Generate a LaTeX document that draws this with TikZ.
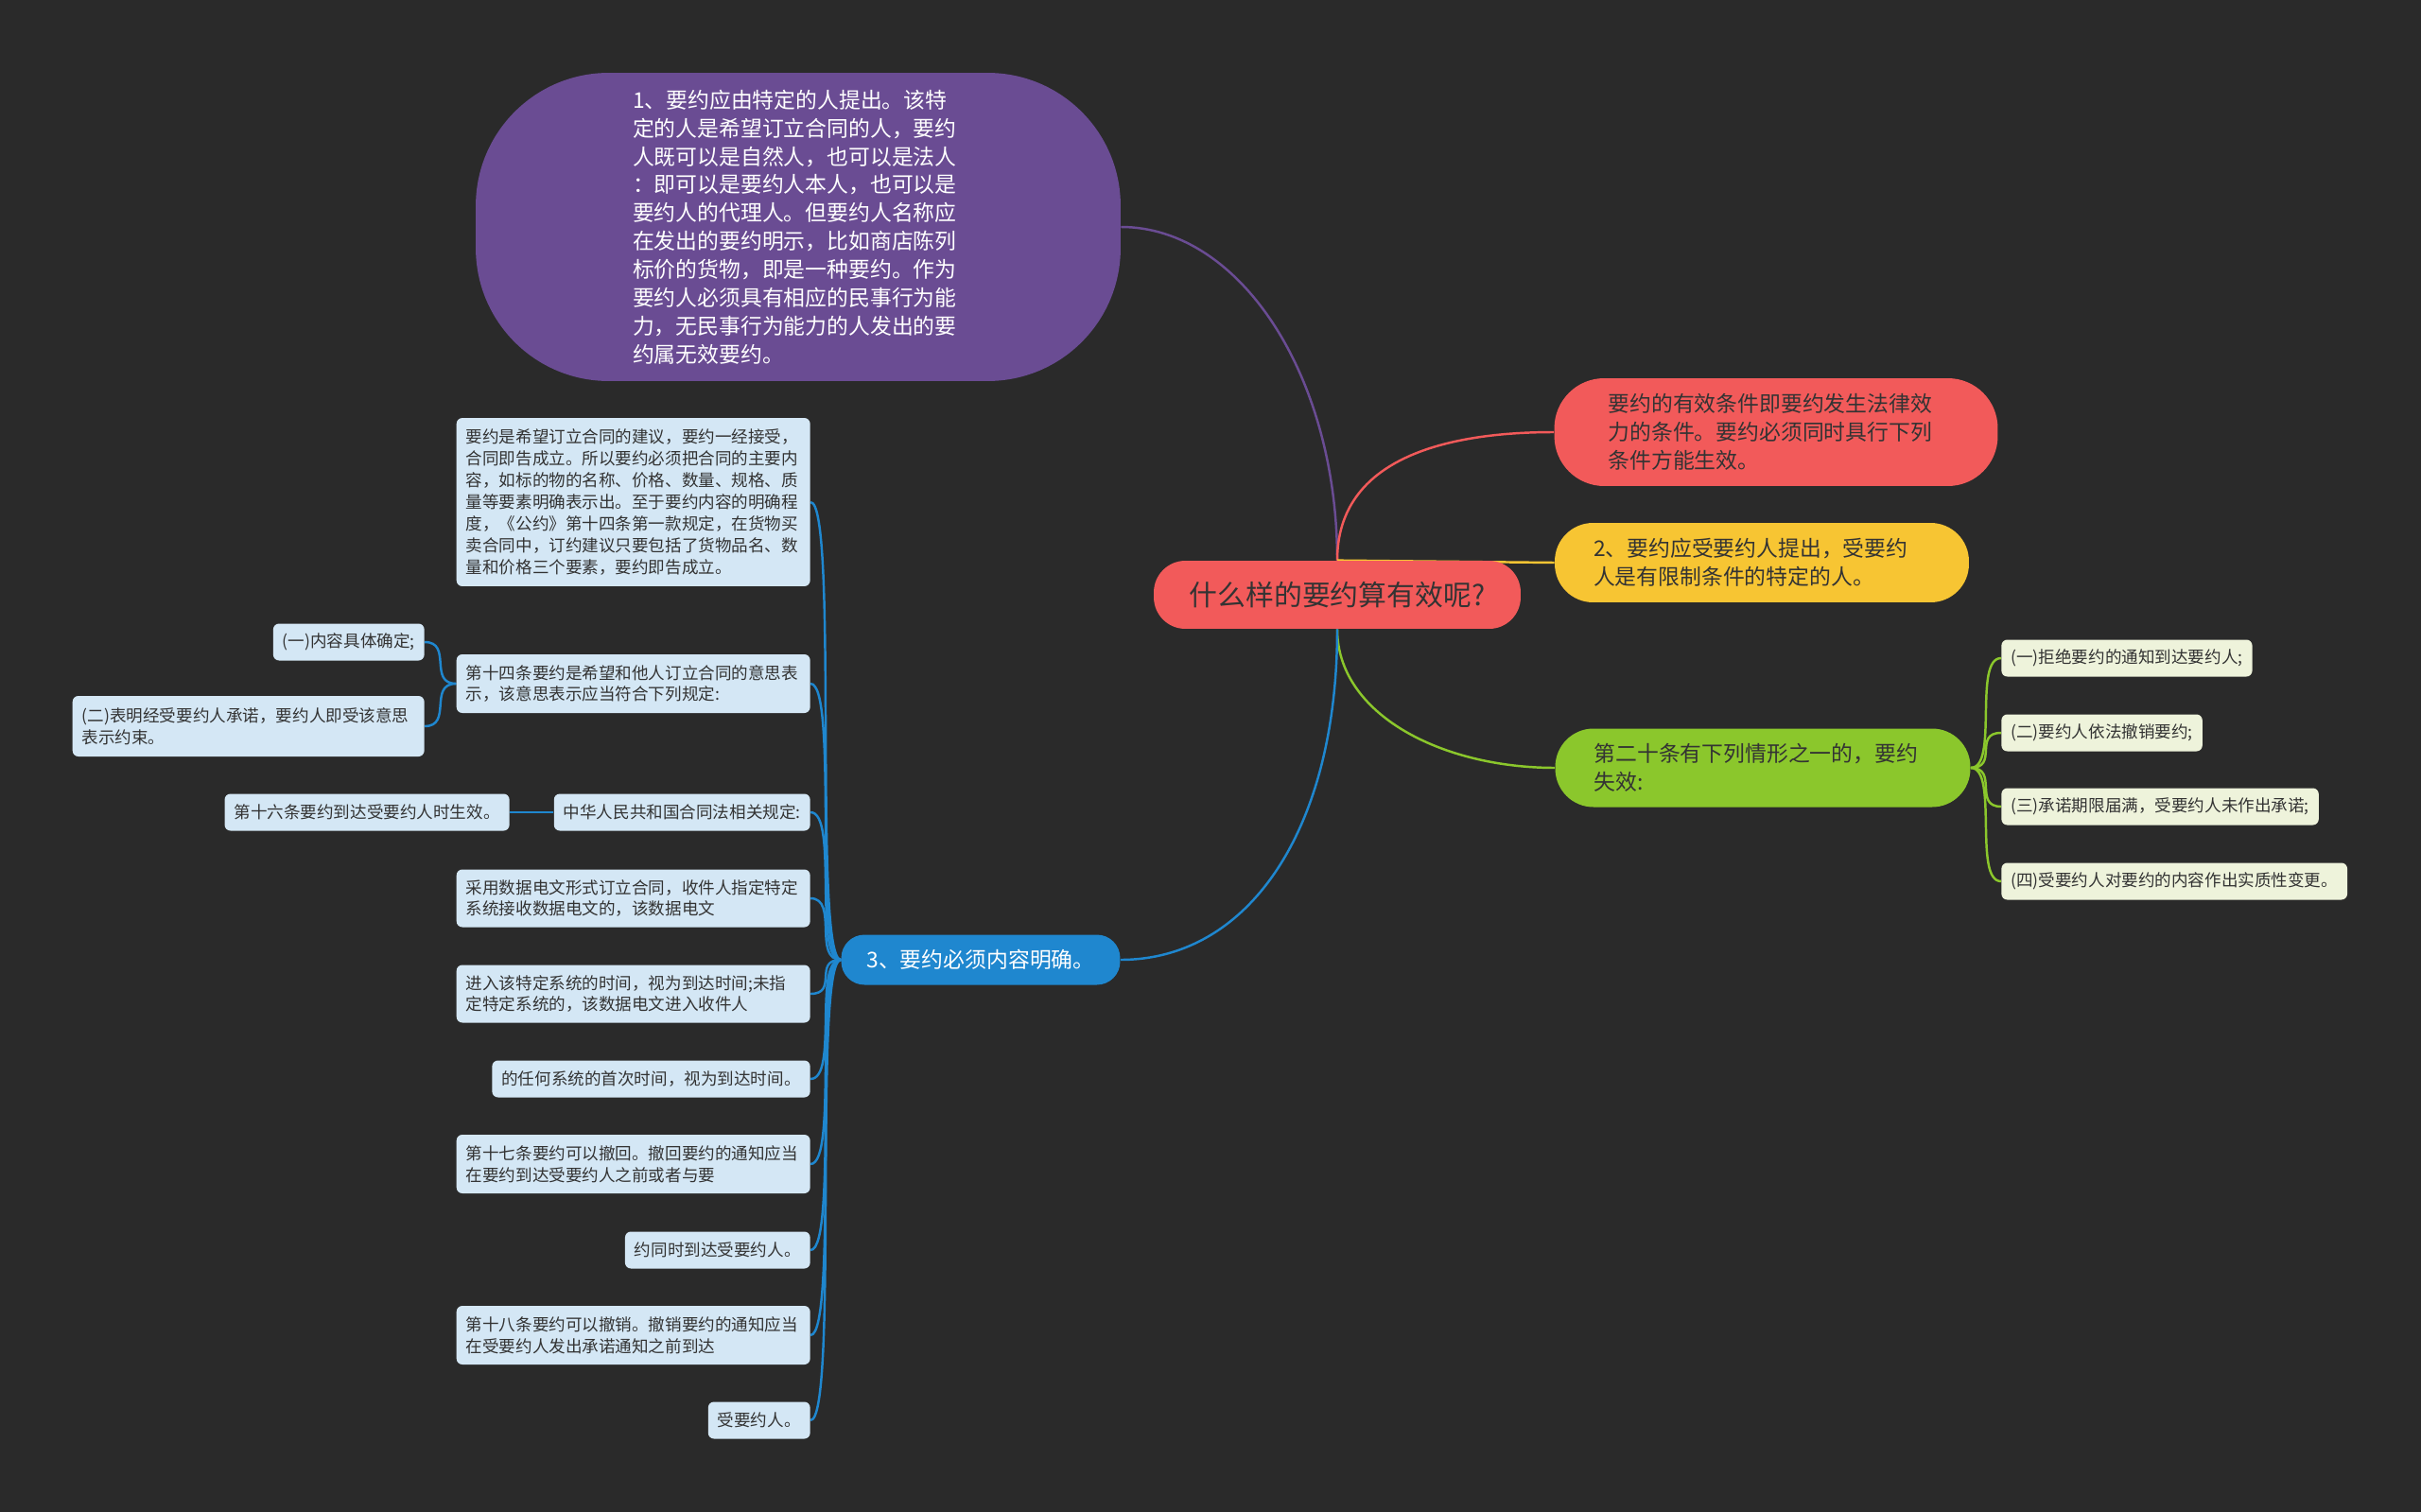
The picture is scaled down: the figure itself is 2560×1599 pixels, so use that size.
\documentclass[tikz,border=0pt]{standalone}
\usepackage{fontspec}
\setmainfont{Noto Sans CJK SC}
\usepackage{xcolor}

\definecolor{cBg}{HTML}{2A2A2A}
\definecolor{cText}{HTML}{333333}
\definecolor{cPurple}{HTML}{6A4C93}
\definecolor{cRed}{HTML}{F25A5A}
\definecolor{cYellow}{HTML}{F7C533}
\definecolor{cGreen}{HTML}{8BC72C}
\definecolor{cBlue}{HTML}{1F87CF}
\definecolor{cLeafBlue}{HTML}{D4E7F5}
\definecolor{cLeafGreen}{HTML}{EEF3DB}

\pgfdeclarelayer{bg}
\pgfsetlayers{bg,main}

\begin{document}
\begin{tikzpicture}[
    x=0.02cm, y=-0.02cm,
    root/.style={
        fill=cRed, rounded corners=19pt, text=cText,
        font=\fontsize{17pt}{20pt}\selectfont,
        minimum width=7.76cm, minimum height=1.44cm, inner sep=0pt
    },
    topic/.style={
        fill=#1, text=cText, align=left, inner ysep=0pt,
        font=\fontsize{13pt}{17pt}\selectfont
    },
    leaf/.style={
        fill=#1, rounded corners=3.5pt, text=cText, align=left,
        font=\fontsize{10pt}{13pt}\selectfont,
        inner xsep=0.2cm, inner ysep=0pt, minimum height=0.78cm
    },
    link/.style={draw=#1, line width=1.4pt}
]

% background
\begin{pgfonlayer}{bg}
\fill[cBg] (0,0) rectangle (2560,1599);
\end{pgfonlayer}

% Central topic
\node[root] (root) at (1414,629) {什么样的要约算有效呢?};

% Main branches
\node[topic=cPurple, text=white, text width=7cm, inner xsep=3.32cm,
    minimum height=6.52cm, rounded corners=80pt] (who) at (844,240)
    {1、要约应由特定的人提出。该特\\定的人是希望订立合同的人，要约\\人既可以是自然人，也可以是法人\\：即可以是要约人本人，也可以是\\要约人的代理人。但要约人名称应\\在发出的要约明示，比如商店陈列\\标价的货物，即是一种要约。作为\\要约人必须具有相应的民事行为能\\力，无民事行为能力的人发出的要\\约属无效要约。};

\node[topic=cRed, text width=7.1cm, inner xsep=1.14cm,
    minimum height=2.28cm, rounded corners=30pt] (valid) at (1878,457)
    {要约的有效条件即要约发生法律效\\力的条件。要约必须同时具行下列\\条件方能生效。};

\node[topic=cYellow, text width=7.12cm, inner xsep=0.82cm,
    minimum height=1.68cm, rounded corners=23pt] (offeree) at (1863,595)
    {2、要约应受要约人提出，受要约\\人是有限制条件的特定的人。};

\node[topic=cGreen, text width=7.14cm, inner xsep=0.82cm,
    minimum height=1.66cm, rounded corners=23pt] (lapse) at (1864,812)
    {第二十条有下列情形之一的，要约\\失效:};

\node[topic=cBlue, text=white, align=center, inner xsep=0pt,
    minimum width=5.9cm, minimum height=1.06cm, rounded corners=14pt] (clear) at (1037,1015)
    {3、要约必须内容明确。};

% Leaves of branch 3
\node[leaf=cLeafBlue, anchor=east, text width=7.08cm, minimum height=3.56cm] (defn) at (857,531)
    {要约是希望订立合同的建议，要约一经接受，\\合同即告成立。所以要约必须把合同的主要内\\容，如标的物的名称、价格、数量、规格、质\\量等要素明确表示出。至于要约内容的明确程\\度，《公约》第十四条第一款规定，在货物买\\卖合同中，订约建议只要包括了货物品名、数\\量和价格三个要素，要约即告成立。};
\node[leaf=cLeafBlue, anchor=east, text width=7.08cm, minimum height=1.24cm] (art14) at (857,723)
    {第十四条要约是希望和他人订立合同的意思表\\示，该意思表示应当符合下列规定:};
\node[leaf=cLeafBlue, anchor=east] (law) at (857,859) {中华人民共和国合同法相关规定:};
\node[leaf=cLeafBlue, anchor=east, text width=7.08cm, minimum height=1.22cm] (edata1) at (857,950)
    {采用数据电文形式订立合同，收件人指定特定\\系统接收数据电文的，该数据电文};
\node[leaf=cLeafBlue, anchor=east, text width=7.08cm, minimum height=1.22cm] (edata2) at (857,1051)
    {进入该特定系统的时间，视为到达时间;未指\\定特定系统的，该数据电文进入收件人};
\node[leaf=cLeafBlue, anchor=east] (edata3) at (857,1141) {的任何系统的首次时间，视为到达时间。};
\node[leaf=cLeafBlue, anchor=east, text width=7.08cm, minimum height=1.24cm] (art17) at (857,1231)
    {第十七条要约可以撤回。撤回要约的通知应当\\在要约到达受要约人之前或者与要};
\node[leaf=cLeafBlue, anchor=east] (art17b) at (857,1322) {约同时到达受要约人。};
\node[leaf=cLeafBlue, anchor=east, text width=7.08cm, minimum height=1.24cm] (art18) at (857,1412)
    {第十八条要约可以撤销。撤销要约的通知应当\\在受要约人发出承诺通知之前到达};
\node[leaf=cLeafBlue, anchor=east] (art18b) at (857,1502) {受要约人。};

% Sub leaves
\node[leaf=cLeafBlue, anchor=east] (art14a) at (449,679) {(一)内容具体确定;};
\node[leaf=cLeafBlue, anchor=east, text width=7.04cm, minimum height=1.28cm] (art14b) at (449,768)
    {(二)表明经受要约人承诺，要约人即受该意思\\表示约束。};
\node[leaf=cLeafBlue, anchor=east] (art16) at (539,859) {第十六条要约到达受要约人时生效。};

% Leaves of the lapse branch
\node[leaf=cLeafGreen, anchor=west] (lapse1) at (2116,696) {(一)拒绝要约的通知到达要约人;};
\node[leaf=cLeafGreen, anchor=west] (lapse2) at (2116,775) {(二)要约人依法撤销要约;};
\node[leaf=cLeafGreen, anchor=west] (lapse3) at (2116,853) {(三)承诺期限届满，受要约人未作出承诺;};
\node[leaf=cLeafGreen, anchor=west] (lapse4) at (2116,932) {(四)受要约人对要约的内容作出实质性变更。};

% Connectors (behind the nodes)
\begin{pgfonlayer}{bg}
\draw[link=cPurple] (who.east) .. controls +(126,0) and +(0,-195) .. (root.north);
\draw[link=cRed] (root.north) .. controls +(0,-110) and +(-110,0) .. (valid.west);
\draw[link=cYellow] (root.north) -- (offeree.west);
\draw[link=cGreen] (root.south) .. controls +(0,90) and +(-120,0) .. (lapse.west);
\draw[link=cBlue] (root.south) .. controls +(0,210) and +(137,0) .. (clear.east);

\foreach \n in {defn,art14,law,edata1,edata2,edata3,art17,art17b,art18,art18b}
    \draw[link=cBlue] (clear.west) .. controls +(-30,0) and +(30,0) .. (\n.east);
\foreach \n in {art14a,art14b}
    \draw[link=cBlue] (art14.west) .. controls +(-30,0) and +(30,0) .. (\n.east);
\draw[link=cBlue] (law.west) -- (art16.east);

\foreach \n in {lapse1,lapse2,lapse3,lapse4}
    \draw[link=cGreen] (lapse.east) .. controls +(30,0) and +(-30,0) .. (\n.west);
\end{pgfonlayer}

\end{tikzpicture}
\end{document}
